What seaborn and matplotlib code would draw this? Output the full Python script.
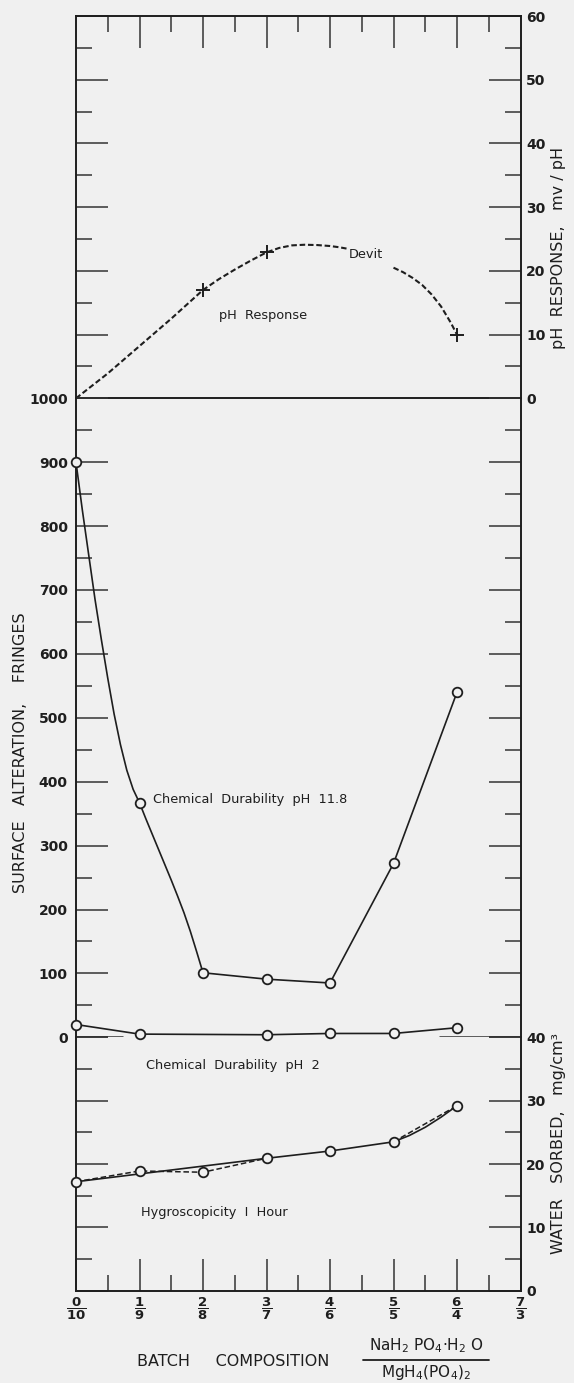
import matplotlib
matplotlib.use("Agg")
import matplotlib.pyplot as plt
import seaborn as sns
from matplotlib.ticker import MultipleLocator, FixedLocator
from matplotlib.lines import Line2D

# ---------------- data ----------------
# batch composition NaH2PO4.H2O / MgH4(PO4)2 (parts in ten)
comp_num = [0, 1, 2, 3, 4, 5, 6, 7]
comp_den = [10, 9, 8, 7, 6, 5, 4, 3]

# pH response, mv/pH (measured glasses marked with +)
ph_pts_x = [2, 3, 6]
ph_pts_y = [17.0, 22.9, 10.0]
# hand-drawn dashed trend, broken where the glass devitrified
ph_rise_x = [0, 0.5, 1.0, 1.5, 2.0, 2.25, 2.5, 2.75, 3.0, 3.2, 3.4, 3.6, 3.8, 4.0, 4.15, 4.26]
ph_rise_y = [0, 3.9, 8.2, 12.5, 17.0, 18.7, 20.2, 21.6, 22.9, 23.6, 24.0, 24.1, 24.05, 23.9, 23.7, 23.5]
ph_fall_x = [5.0, 5.15, 5.3, 5.45, 5.6, 5.75, 5.9, 6.0]
ph_fall_y = [20.5, 19.8, 18.9, 17.8, 16.3, 14.4, 11.9, 10.0]

# chemical durability at pH 11.8, surface alteration in fringes
d118_x = [0, 1, 2, 3, 4, 5, 6]
d118_y = [900, 367, 101, 91, 85, 272, 540]
d118_curve_x = [0, 0.1, 0.2, 0.3, 0.4, 0.5, 0.6, 0.7, 0.8, 0.9, 1.0,
                1.1, 1.2, 1.3, 1.4, 1.5, 1.6, 1.7, 1.8, 1.9, 2.0, 3, 4, 5, 6]
d118_curve_y = [900, 825, 755, 685, 622, 562, 506, 458, 418, 388, 367,
                342, 318, 294, 270, 246, 221, 195, 166, 134, 101, 91, 85, 272, 540]

# chemical durability at pH 2, surface alteration in fringes
d2_x = [0, 1, 3, 4, 5, 6]
d2_y = [20, 5, 4, 6, 6, 15]

# hygroscopicity after 1 hour, water sorbed mg/cm3
hyg_x = [0, 1, 2, 3, 4, 5, 6]
hyg_y = [17.2, 18.9, 18.7, 20.9, 22.05, 23.5, 29.2]
hyg_smooth_x = [0, 3, 4, 5, 5.25, 5.5, 5.75, 6]
hyg_smooth_y = [17.2, 20.9, 22.05, 23.5, 24.5, 25.8, 27.4, 29.2]
hyg_dash1_x = [0, 1, 2, 3]
hyg_dash1_y = [17.2, 18.9, 18.7, 20.9]
hyg_dash2_x = [5, 6]
hyg_dash2_y = [23.5, 29.2]

# ---------------- style ----------------
sns.set_style("ticks")
BG = "#f0f0f0"
INK = "#1e1e1e"
plt.rcParams["font.family"] = ["DejaVu Sans"]
plt.rcParams["lines.scale_dashes"] = False
plt.rcParams["mathtext.fontset"] = "dejavusans"

W, H = 574, 1383
fig = plt.figure(figsize=(W / 100, H / 100), dpi=100)
fig.patch.set_facecolor(BG)

x_left, x_right = 76, 520.5
y_top, y_b1, y_b2, y_bot = 16, 398.3, 1037.3, 1290.7


def frame(top_px, bot_px):
    return [x_left / W, 1 - bot_px / H, (x_right - x_left) / W, (bot_px - top_px) / H]


ax_ph = fig.add_axes(frame(y_top, y_b1))
ax_dur = fig.add_axes(frame(y_b1, y_b2))
ax_hyg = fig.add_axes(frame(y_b2, y_bot))

MAJ, MIN = 23, 11.5
for ax in (ax_ph, ax_dur, ax_hyg):
    ax.set_facecolor("none")
    ax.set_xlim(0, 7)
    for s in ax.spines.values():
        s.set_linewidth(1.4)
        s.set_color(INK)
    ax.tick_params(which="both", direction="in", color="#333333", width=1.1)
    ax.tick_params(which="major", length=MAJ)
    ax.tick_params(which="minor", length=MIN)

tick_font = dict(fontsize=10, fontweight="bold", color=INK)
note = dict(fontsize=9.3, color=INK, va="center")
title = dict(fontsize=11.5, color=INK, ha="center", va="center")

# ---- top panel: pH response ----
ax_ph.set_ylim(0, 60)
ax_ph.yaxis.set_major_locator(MultipleLocator(10))
ax_ph.yaxis.set_minor_locator(MultipleLocator(5))
ax_ph.tick_params(axis="y", which="both", left=True, right=True,
                  labelleft=False, labelright=True, pad=4)
ax_ph.xaxis.set_major_locator(FixedLocator([1, 2, 3, 4, 5, 6]))
ax_ph.xaxis.set_minor_locator(FixedLocator([0.5, 1.5, 2.5, 3.5, 4.5, 5.5, 6.5]))
ax_ph.tick_params(axis="x", which="both", top=True, bottom=False,
                  labelbottom=False, labeltop=False)

dash = (0, (4.0, 2.0))
sns.lineplot(x=ph_rise_x, y=ph_rise_y, ax=ax_ph, color=INK, lw=1.5,
             linestyle=dash, sort=False, estimator=None)
sns.lineplot(x=ph_fall_x, y=ph_fall_y, ax=ax_ph, color=INK, lw=1.5,
             linestyle=dash, sort=False, estimator=None)
sns.scatterplot(x=ph_pts_x, y=ph_pts_y, ax=ax_ph, marker="+", s=110,
                color=INK, linewidth=1.4, zorder=5)
ax_ph.text(2.94, 13.0, "pH  Response", ha="center", **note)
ax_ph.text(4.56, 22.5, "Devit", ha="center", **note)
ax_ph.set_xlabel("")
ax_ph.set_ylabel("")
for lab in ax_ph.get_yticklabels():
    lab.set(**tick_font)

# ---- middle panel: chemical durability ----
ax_dur.set_ylim(0, 1000)
ax_dur.yaxis.set_major_locator(MultipleLocator(100))
ax_dur.yaxis.set_minor_locator(MultipleLocator(50))
ax_dur.tick_params(axis="y", which="both", left=True, right=True,
                   labelleft=True, labelright=False, pad=6)
ax_dur.tick_params(axis="x", which="both", top=False, bottom=False,
                   labelbottom=False)
ax_dur.spines["bottom"].set_visible(False)
ax_dur.spines["top"].set_visible(False)

ax_dur.axhline(0, xmin=0, xmax=47 / (x_right - x_left), color="#333333", lw=1.1)
ax_dur.axhline(0, xmin=(440 - x_left) / (x_right - x_left), xmax=1, color="#333333", lw=1.1)

circ = dict(marker="o", s=48, facecolor=BG, edgecolor=INK, linewidth=1.3,
            zorder=5, clip_on=False)
sns.lineplot(x=d118_curve_x, y=d118_curve_y, ax=ax_dur, color=INK, lw=1.2,
             sort=False, estimator=None, clip_on=False)
sns.scatterplot(x=d118_x, y=d118_y, ax=ax_dur, **circ)
sns.lineplot(x=d2_x, y=d2_y, ax=ax_dur, color=INK, lw=1.2,
             sort=False, estimator=None, clip_on=False)
sns.scatterplot(x=d2_x, y=d2_y, ax=ax_dur, **circ)
ax_dur.text(1.22, 372, "Chemical  Durability  pH  11.8", ha="left", **note)
ax_dur.set_xlabel("")
ax_dur.set_ylabel("")
for lab in ax_dur.get_yticklabels():
    lab.set(**tick_font)

# ---- bottom panel: hygroscopicity ----
ax_hyg.set_ylim(0, 40)
ax_hyg.yaxis.set_major_locator(MultipleLocator(10))
ax_hyg.yaxis.set_minor_locator(MultipleLocator(5))
ax_hyg.tick_params(axis="y", which="both", left=True, right=True,
                   labelleft=False, labelright=True, pad=4)
ax_hyg.spines["top"].set_visible(False)
ax_hyg.xaxis.set_major_locator(FixedLocator(comp_num))
ax_hyg.xaxis.set_minor_locator(FixedLocator([0.5, 1.5, 2.5, 3.5, 4.5, 5.5, 6.5]))
ax_hyg.tick_params(axis="x", which="both", top=False, bottom=True, pad=4)

sns.lineplot(x=hyg_smooth_x, y=hyg_smooth_y, ax=ax_hyg, color=INK, lw=1.2,
             sort=False, estimator=None)
sns.lineplot(x=hyg_dash1_x, y=hyg_dash1_y, ax=ax_hyg, color=INK, lw=1.1,
             linestyle=dash, sort=False, estimator=None)
sns.lineplot(x=hyg_dash2_x, y=hyg_dash2_y, ax=ax_hyg, color=INK, lw=1.1,
             linestyle=dash, sort=False, estimator=None)
sns.scatterplot(x=hyg_x, y=hyg_y, ax=ax_hyg, **circ)
ax_hyg.text(1.11, 35.5, "Chemical  Durability  pH  2", ha="left", **note)
ax_hyg.text(1.02, 12.3, "Hygroscopicity  I  Hour", ha="left", **note)
ax_hyg.set_xlabel("")
ax_hyg.set_ylabel("")
ax_hyg.set_xticklabels([r"$\mathbf{\dfrac{%d}{%d}}$" % (n, d) for n, d in zip(comp_num, comp_den)],
                       fontsize=9.5, color=INK)
for lab in ax_hyg.get_yticklabels():
    lab.set(**tick_font)

# ---- axis titles ----
fig.text(21 / W, 1 - 753 / H, "SURFACE   ALTERATION,    FRINGES", rotation=90, **title)
fig.text(559 / W, 1 - 248 / H, "pH  RESPONSE,   mv / pH", rotation=90, **title)
fig.text(559 / W, 1 - 1143 / H, "WATER   SORBED,   mg/cm³", rotation=90, **title)

fig.text(233 / W, 1 - 1362 / H, "BATCH     COMPOSITION", **title)
fig.text(426 / W, 1 - 1346 / H, r"NaH$_2$ PO$_4$·H$_2$ O", fontsize=11,
         ha="center", va="center", color=INK)
fig.text(426 / W, 1 - 1373 / H, r"MgH$_4$(PO$_4$)$_2$", fontsize=11,
         ha="center", va="center", color=INK)
fig.add_artist(Line2D([363 / W, 489 / W], [1 - 1360 / H, 1 - 1360 / H],
                      transform=fig.transFigure, color=INK, lw=1.3))

fig.savefig("out.png", dpi=100, facecolor=BG)
